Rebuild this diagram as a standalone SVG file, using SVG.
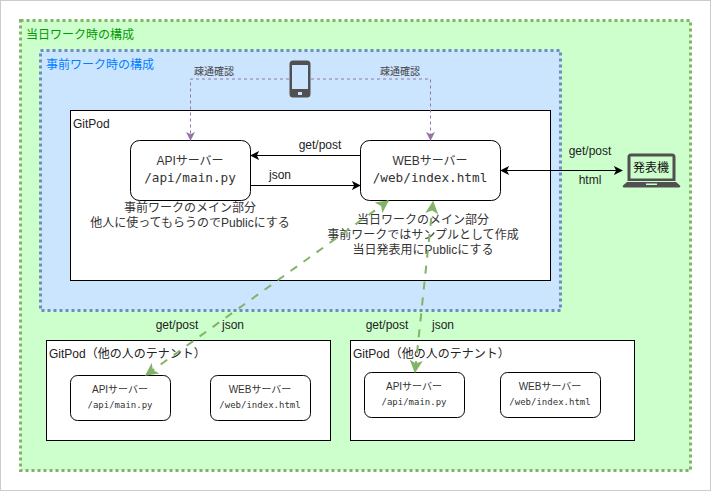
<svg xmlns="http://www.w3.org/2000/svg" width="711" height="491" viewBox="0 0 711 491">
<style>
text{font-family:"Liberation Sans","Noto Sans CJK JP",sans-serif;font-size:12px;fill:#222}
.c{text-anchor:middle}
.m{font-family:"DejaVu Sans Mono","Noto Sans CJK JP",monospace}
.box{fill:#fff;stroke:#000;stroke-width:1}
.sm{font-size:10px;fill:#333}
.smm{font-size:9px;fill:#333}
.big{font-size:12px;fill:#333}
.mm{font-size:12.7px;fill:#333}
.lab{font-size:12px}
.tiny{font-size:10px;fill:#444}
.blk{fill:none;stroke:#000;stroke-width:1}
.pur{fill:none;stroke:#9673a6;stroke-width:1;stroke-dasharray:3 3}
.grn{fill:none;stroke:#82b366;stroke-width:2;stroke-dasharray:8 8}
</style>
<defs>
<marker id="ab" viewBox="0 0 10 10" refX="9" refY="5" markerWidth="9" markerHeight="9" markerUnits="userSpaceOnUse" orient="auto-start-reverse"><path d="M0 0L10 5L0 10L2.5 5Z" fill="#000"/></marker>
<marker id="ap" viewBox="0 0 10 10" refX="9" refY="5" markerWidth="9" markerHeight="9" markerUnits="userSpaceOnUse" orient="auto-start-reverse"><path d="M0 0L10 5L0 10L2.5 5Z" fill="#9673a6"/></marker>
<marker id="ag" viewBox="0 0 10 10" refX="9" refY="5" markerWidth="13" markerHeight="13" markerUnits="userSpaceOnUse" orient="auto-start-reverse"><path d="M0 0L10 5L0 10L2.5 5Z" fill="#82b366"/></marker>
</defs>
<rect x="0.5" y="0.5" width="710" height="490" fill="#fff" stroke="#ccc"/>
<g id="day-of">
<rect x="20.5" y="20.5" width="670" height="450" fill="#ccffcc" stroke="#82b366" stroke-width="3" stroke-dasharray="3 3"/>
<text x="26" y="39" style="fill:#009900">当日ワーク時の構成</text>
</g>
<g id="pre-work">
<rect x="40.5" y="50.5" width="520" height="260" fill="#cce5ff" stroke="#6c8ebf" stroke-width="3" stroke-dasharray="3 3"/>
<text x="46" y="69" style="fill:#007fff">事前ワーク時の構成</text>
</g>
<g id="gitpod">
<rect class="box" x="70.5" y="110.5" width="480" height="170"/>
<text x="73" y="128">GitPod</text>
</g>
<g id="api">
<rect class="box" x="130.5" y="140.5" width="120" height="60" rx="9"/>
<text class="c big" x="190" y="165">APIサーバー</text>
<text class="c m mm" x="190" y="182">/api/main.py</text>
</g>
<g id="web">
<rect class="box" x="360.5" y="140.5" width="140" height="60" rx="9"/>
<text class="c big" x="430" y="165">WEBサーバー</text>
<text class="c m mm" x="430" y="182">/web/index.html</text>
</g>
<g id="note-api">
<text class="c big" x="190" y="212">事前ワークのメイン部分</text>
<text class="c big" x="190" y="227">他人に使ってもらうのでPublicにする</text>
</g>
<g id="note-web">
<text class="c big" x="423" y="224">当日ワークのメイン部分</text>
<text class="c big" x="423" y="239">事前ワークではサンプルとして作成</text>
<text class="c big" x="423" y="254">当日発表用にPublicにする</text>
</g>
<g id="phone">
<path fill="#505050" fill-rule="evenodd" d="M293 60.500h14a3.500 3.500 0 0 1 3.500 3.500v30a3.500 3.500 0 0 1-3.500 3.500h-14a3.500 3.500 0 0 1-3.500-3.500v-30a3.500 3.500 0 0 1 3.500-3.500ZM292 65v24h16V65ZM298 92v3h4v-3Z"/>
</g>
<g id="laptop">
<path fill="#505050" fill-rule="evenodd" d="M631 153.500h41a3.500 3.500 0 0 1 3.500 3.500v24H627.500v-24a3.500 3.500 0 0 1 3.500-3.500ZM630.500 156.500v22h42v-22Z"/>
<path fill="#505050" fill-rule="evenodd" d="M627 182h49l4 3.500a1.200 1.200 0 0 1-1 2H624a1.200 1.200 0 0 1-1-2ZM646 183.500v1.500h11v-1.500Z"/>
<text class="c big" x="651" y="172" style="fill:#111">発表機</text>
</g>
<g id="tenant-1">
<rect class="box" x="46.5" y="340.500" width="284" height="100"/>
<text x="49" y="358">GitPod（他の人のテナント）</text>
</g>
<g id="tenant-1-api">
<rect class="box" x="70.500" y="375.500" width="100" height="45" rx="7"/>
<text class="c sm" x="120" y="393">APIサーバー</text>
<text class="c m smm" x="120" y="408">/api/main.py</text>
</g>
<g id="tenant-1-web">
<rect class="box" x="210.500" y="375.500" width="100" height="45" rx="7"/>
<text class="c sm" x="260" y="393">WEBサーバー</text>
<text class="c m smm" x="260" y="408">/web/index.html</text>
</g>
<g id="tenant-2">
<rect class="box" x="350.500" y="340.500" width="284" height="100"/>
<text x="353" y="358">GitPod（他の人のテナント）</text>
</g>
<g id="tenant-2-api">
<rect class="box" x="364.500" y="372.500" width="100" height="45" rx="7"/>
<text class="c sm" x="414" y="390">APIサーバー</text>
<text class="c m smm" x="414" y="405">/api/main.py</text>
</g>
<g id="tenant-2-web">
<rect class="box" x="500.500" y="372.500" width="100" height="45" rx="7"/>
<text class="c sm" x="550" y="390">WEBサーバー</text>
<text class="c m smm" x="550" y="405">/web/index.html</text>
</g>
<g id="connectors">
<path class="blk" d="M360 155.500H251" marker-end="url(#ab)"/>
<path class="blk" d="M251 185.500H360" marker-end="url(#ab)"/>
<path class="blk" d="M501 170.500H622" marker-start="url(#ab)" marker-end="url(#ab)"/>
<path class="pur" d="M289 79H190.500V140" marker-end="url(#ap)"/>
<path class="pur" d="M311 79H430.500V140" marker-end="url(#ap)"/>
<path class="grn" d="M388 201L146 375" marker-start="url(#ag)" marker-end="url(#ag)"/>
<path class="grn" d="M433 202L415 372" marker-start="url(#ag)" marker-end="url(#ag)"/>
</g>
<g id="labels">
<text class="c lab" x="320" y="149">get/post</text>
<text class="c lab" x="280" y="179">json</text>
<text class="c lab" x="590" y="155">get/post</text>
<text class="c lab" x="590" y="184">html</text>
<text class="c lab" x="177" y="329">get/post</text>
<text class="c lab" x="233" y="329">json</text>
<text class="c lab" x="387" y="329">get/post</text>
<text class="c lab" x="443" y="329">json</text>
<text class="c tiny" x="214" y="75">疎通確認</text>
<text class="c tiny" x="400" y="75">疎通確認</text>
</g>
</svg>
